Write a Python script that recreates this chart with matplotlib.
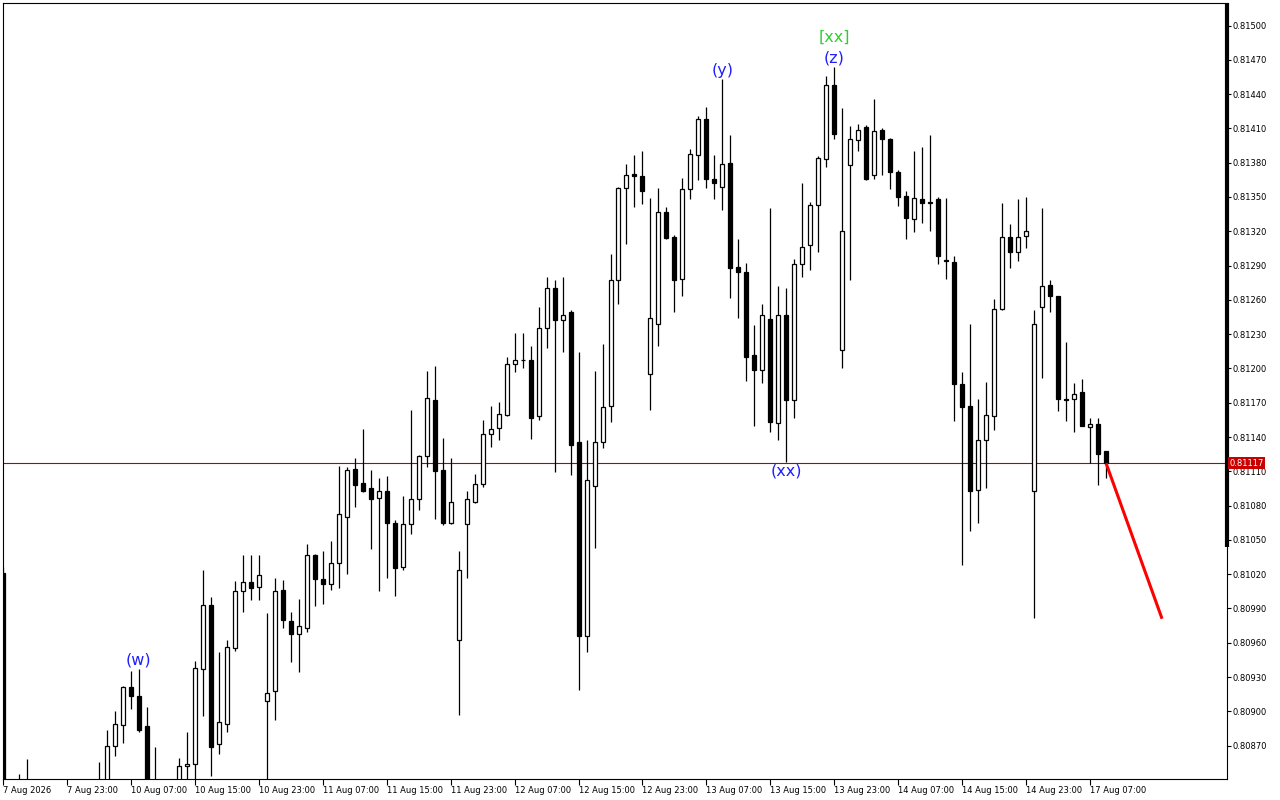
import matplotlib
matplotlib.use("Agg")
import matplotlib.pyplot as plt
import matplotlib.transforms as mtransforms
import numpy as np

plt.rcParams["font.family"] = ["DejaVu Sans"]

# H1 candles, index 0 = 7 Aug 15:00 (weekend hours skipped)
opens = np.array([
    0.81021, 0.80812, 0.80820, 0.80810, 0.80825, 0.80800, 0.80785, 0.80775, 0.80790, 0.80805,
    0.80800, 0.80815, 0.80825, 0.80830, 0.80870, 0.80888, 0.80921, 0.80913, 0.80887, 0.80820,
    0.80812, 0.80800, 0.80820, 0.80852, 0.80854, 0.80937, 0.80993, 0.80871, 0.80889, 0.80955,
    0.81005, 0.81013, 0.81009, 0.80909, 0.80918, 0.81006, 0.80979, 0.80968, 0.80973, 0.81037,
    0.81016, 0.81011, 0.81030, 0.81070, 0.81112, 0.81100, 0.81095, 0.81087, 0.81093, 0.81065,
    0.81026, 0.81064, 0.81086, 0.81123, 0.81172, 0.81111, 0.81065, 0.80962, 0.81064, 0.81083,
    0.81099, 0.81143, 0.81148, 0.81159, 0.81204, 0.81207, 0.81207, 0.81158, 0.81235, 0.81270,
    0.81242, 0.81249, 0.81136, 0.80966, 0.81097, 0.81136, 0.81167, 0.81277, 0.81358, 0.81370,
    0.81368, 0.81195, 0.81239, 0.81337, 0.81315, 0.81278, 0.81357, 0.81387, 0.81418, 0.81366,
    0.81359, 0.81380, 0.81289, 0.81284, 0.81212, 0.81199, 0.81243, 0.81152, 0.81247, 0.81172,
    0.81291, 0.81308, 0.81343, 0.81383, 0.81448, 0.81216, 0.81378, 0.81400, 0.81411, 0.81369,
    0.81409, 0.81401, 0.81372, 0.81351, 0.81331, 0.81348, 0.81345, 0.81348, 0.81295, 0.81293,
    0.81186, 0.81167, 0.81094, 0.81137, 0.81158, 0.81252, 0.81315, 0.81302, 0.81316, 0.81093,
    0.81254, 0.81273, 0.81263, 0.81173, 0.81173, 0.81179, 0.81149, 0.81151, 0.81128,
])
highs = np.array([
    0.81026, 0.80830, 0.80845, 0.80858, 0.80835, 0.80820, 0.80805, 0.80800, 0.80815, 0.80830,
    0.80825, 0.80835, 0.80856, 0.80884, 0.80900, 0.80922, 0.80935, 0.80937, 0.80904, 0.80869,
    0.80830, 0.80835, 0.80859, 0.80882, 0.80944, 0.81024, 0.81000, 0.80952, 0.80962, 0.81014,
    0.81037, 0.81037, 0.81037, 0.80986, 0.81017, 0.81015, 0.80987, 0.80998, 0.81046, 0.81038,
    0.81040, 0.81049, 0.81115, 0.81114, 0.81122, 0.81147, 0.81111, 0.81104, 0.81106, 0.81067,
    0.81088, 0.81164, 0.81124, 0.81198, 0.81202, 0.81139, 0.81122, 0.81040, 0.81093, 0.81108,
    0.81155, 0.81167, 0.81171, 0.81210, 0.81231, 0.81231, 0.81220, 0.81254, 0.81280, 0.81277,
    0.81280, 0.81251, 0.81214, 0.81137, 0.81198, 0.81221, 0.81300, 0.81359, 0.81379, 0.81387,
    0.81390, 0.81349, 0.81358, 0.81341, 0.81317, 0.81367, 0.81392, 0.81421, 0.81429, 0.81387,
    0.81453, 0.81404, 0.81313, 0.81292, 0.81238, 0.81256, 0.81340, 0.81272, 0.81270, 0.81296,
    0.81362, 0.81346, 0.81386, 0.81456, 0.81464, 0.81428, 0.81412, 0.81414, 0.81413, 0.81436,
    0.81410, 0.81402, 0.81374, 0.81355, 0.81390, 0.81394, 0.81404, 0.81350, 0.81349, 0.81298,
    0.81197, 0.81239, 0.81173, 0.81188, 0.81261, 0.81345, 0.81326, 0.81348, 0.81350, 0.81251,
    0.81340, 0.81277, 0.81263, 0.81223, 0.81187, 0.81191, 0.81157, 0.81157, 0.81128,
])
lows = np.array([
    0.80800, 0.80790, 0.80800, 0.80795, 0.80790, 0.80770, 0.80760, 0.80765, 0.80780, 0.80790,
    0.80785, 0.80800, 0.80810, 0.80820, 0.80861, 0.80872, 0.80902, 0.80882, 0.80800, 0.80790,
    0.80780, 0.80785, 0.80810, 0.80830, 0.80835, 0.80896, 0.80843, 0.80863, 0.80882, 0.80953,
    0.80987, 0.80997, 0.80997, 0.80830, 0.80892, 0.80973, 0.80943, 0.80934, 0.80969, 0.80992,
    0.80994, 0.81006, 0.81008, 0.81020, 0.81079, 0.81092, 0.81042, 0.81005, 0.81017, 0.81001,
    0.81024, 0.81055, 0.81076, 0.81114, 0.81068, 0.81063, 0.81064, 0.80897, 0.81017, 0.81082,
    0.81096, 0.81131, 0.81137, 0.81158, 0.81197, 0.81200, 0.81138, 0.81155, 0.81218, 0.81109,
    0.81214, 0.81107, 0.80919, 0.80952, 0.81043, 0.81130, 0.81153, 0.81256, 0.81309, 0.81341,
    0.81344, 0.81164, 0.81220, 0.81313, 0.81249, 0.81263, 0.81348, 0.81365, 0.81358, 0.81348,
    0.81339, 0.81262, 0.81244, 0.81189, 0.81150, 0.81187, 0.81144, 0.81137, 0.81118, 0.81157,
    0.81280, 0.81286, 0.81302, 0.81376, 0.81401, 0.81200, 0.81277, 0.81390, 0.81365, 0.81366,
    0.81369, 0.81357, 0.81342, 0.81313, 0.81319, 0.81327, 0.81320, 0.81291, 0.81278, 0.81154,
    0.81028, 0.81058, 0.81065, 0.81095, 0.81146, 0.81251, 0.81288, 0.81294, 0.81305, 0.80982,
    0.81192, 0.81249, 0.81163, 0.81154, 0.81144, 0.81150, 0.81117, 0.81098, 0.81104,
])
closes = np.array([
    0.80812, 0.80820, 0.80810, 0.80825, 0.80800, 0.80785, 0.80775, 0.80790, 0.80805, 0.80800,
    0.80815, 0.80825, 0.80830, 0.80870, 0.80889, 0.80921, 0.80913, 0.80884, 0.80820, 0.80812,
    0.80800, 0.80820, 0.80852, 0.80854, 0.80938, 0.80993, 0.80869, 0.80891, 0.80956, 0.81005,
    0.81013, 0.81008, 0.81019, 0.80916, 0.81005, 0.80980, 0.80968, 0.80975, 0.81037, 0.81016,
    0.81011, 0.81030, 0.81073, 0.81111, 0.81098, 0.81093, 0.81086, 0.81093, 0.81065, 0.81025,
    0.81064, 0.81086, 0.81123, 0.81174, 0.81110, 0.81065, 0.81083, 0.81024, 0.81086, 0.81099,
    0.81143, 0.81147, 0.81160, 0.81204, 0.81207, 0.81207, 0.81157, 0.81235, 0.81270, 0.81242,
    0.81247, 0.81133, 0.80966, 0.81102, 0.81136, 0.81166, 0.81277, 0.81358, 0.81369, 0.81368,
    0.81355, 0.81244, 0.81337, 0.81314, 0.81277, 0.81357, 0.81388, 0.81418, 0.81366, 0.81362,
    0.81379, 0.81288, 0.81284, 0.81210, 0.81199, 0.81247, 0.81153, 0.81247, 0.81172, 0.81291,
    0.81306, 0.81343, 0.81384, 0.81448, 0.81405, 0.81320, 0.81401, 0.81409, 0.81366, 0.81408,
    0.81401, 0.81372, 0.81350, 0.81332, 0.81349, 0.81345, 0.81346, 0.81298, 0.81294, 0.81186,
    0.81166, 0.81093, 0.81137, 0.81159, 0.81252, 0.81315, 0.81302, 0.81315, 0.81320, 0.81239,
    0.81272, 0.81263, 0.81173, 0.81172, 0.81178, 0.81150, 0.81151, 0.81125, 0.81117,
])

current_price = 0.81117

# time labels every 8 bars
label_idx = list(range(0, 137, 8))
time_labels = [
    "7 Aug 2026", "7 Aug 23:00", "10 Aug 07:00", "10 Aug 15:00", "10 Aug 23:00",
    "11 Aug 07:00", "11 Aug 15:00", "11 Aug 23:00", "12 Aug 07:00", "12 Aug 15:00",
    "12 Aug 23:00", "13 Aug 07:00", "13 Aug 15:00", "13 Aug 23:00", "14 Aug 07:00",
    "14 Aug 15:00", "14 Aug 23:00", "17 Aug 07:00",
]
price_ticks = np.arange(0.80870, 0.81501, 0.00030)

# wave marks: (text, bar index, anchor, colour, stacking level)
wave_marks = [
    ("(w)", 17, "high", "#1e1eff", 0),
    ("(y)", 90, "high", "#1e1eff", 0),
    ("(z)", 104, "high", "#1e1eff", 0),
    ("[xx]", 104, "high", "#32cd32", 1),
    ("(xx)", 98, "low", "#1e1eff", 0),
]

# projection line
proj_idx = [138, 145]
proj_price = [0.81117, 0.80981]

fig = plt.figure(figsize=(12.8, 8), dpi=100)
ax = fig.add_axes([3 / 1280, 21 / 800, 1224 / 1280, 776 / 800])

x = np.arange(len(opens))
up = closes >= opens

ax.axhline(current_price, color="#b40000", lw=0.8, zorder=1)
ax.vlines(x, lows, highs, color="black", lw=0.9, zorder=2)
ax.bar(x[up], (closes - opens)[up], bottom=opens[up], width=0.5,
       facecolor="white", edgecolor="black", lw=0.9, zorder=3)
ax.bar(x[~up], (opens - closes)[~up], bottom=closes[~up], width=0.5,
       facecolor="black", edgecolor="black", lw=0.9, zorder=3)

ax.plot(proj_idx, proj_price, color="red", lw=2.2, zorder=4,
        solid_capstyle="butt")

for text, idx, anchor, col, level in wave_marks:
    if anchor == "high":
        ax.annotate(text, (idx, highs[idx]), xytext=(0, 1 + 14.5 * level),
                    textcoords="offset points", ha="center", va="bottom",
                    fontsize=11.5, color=col, zorder=5)
    else:
        ax.annotate(text, (idx, lows[idx]), xytext=(0, -1),
                    textcoords="offset points", ha="center", va="top",
                    fontsize=11.5, color=col, zorder=5)

ax.set_xlim(0.125, 153.125)
ax.set_ylim(0.808408, 0.815197)

ax.set_xticks(label_idx)
ax.set_xticklabels(time_labels, fontsize=6)
offset = mtransforms.ScaledTranslation(2 / 100, 0, fig.dpi_scale_trans)
for lab in ax.get_xticklabels():
    lab.set_ha("left")
    lab.set_transform(lab.get_transform() + offset)
ax.tick_params(axis="x", direction="out", length=4, width=0.8, pad=1)

ax.yaxis.tick_right()
ax.set_yticks(price_ticks)
ax.set_yticklabels([f"{p:.5f}" for p in price_ticks], fontsize=6)
ax.tick_params(axis="y", direction="out", length=3, width=0.8, pad=1)

for side in ["top", "bottom", "left", "right"]:
    ax.spines[side].set_linewidth(0.8)
    ax.spines[side].set_color("black")

# thick marker on the price scale
ax.plot([1, 1], [0.299, 1], transform=ax.transAxes, color="black", lw=3,
        clip_on=False, solid_capstyle="butt", zorder=6)

price_tr = mtransforms.blended_transform_factory(ax.transAxes, ax.transData)
ax.text(1.002, current_price, f"{current_price:.5f}", transform=price_tr,
        color="white", fontsize=6, ha="left", va="center", zorder=10,
        clip_on=False,
        bbox=dict(boxstyle="square,pad=0.2", fc="#c80000", ec="none"))

fig.savefig("out.png", dpi=100)
